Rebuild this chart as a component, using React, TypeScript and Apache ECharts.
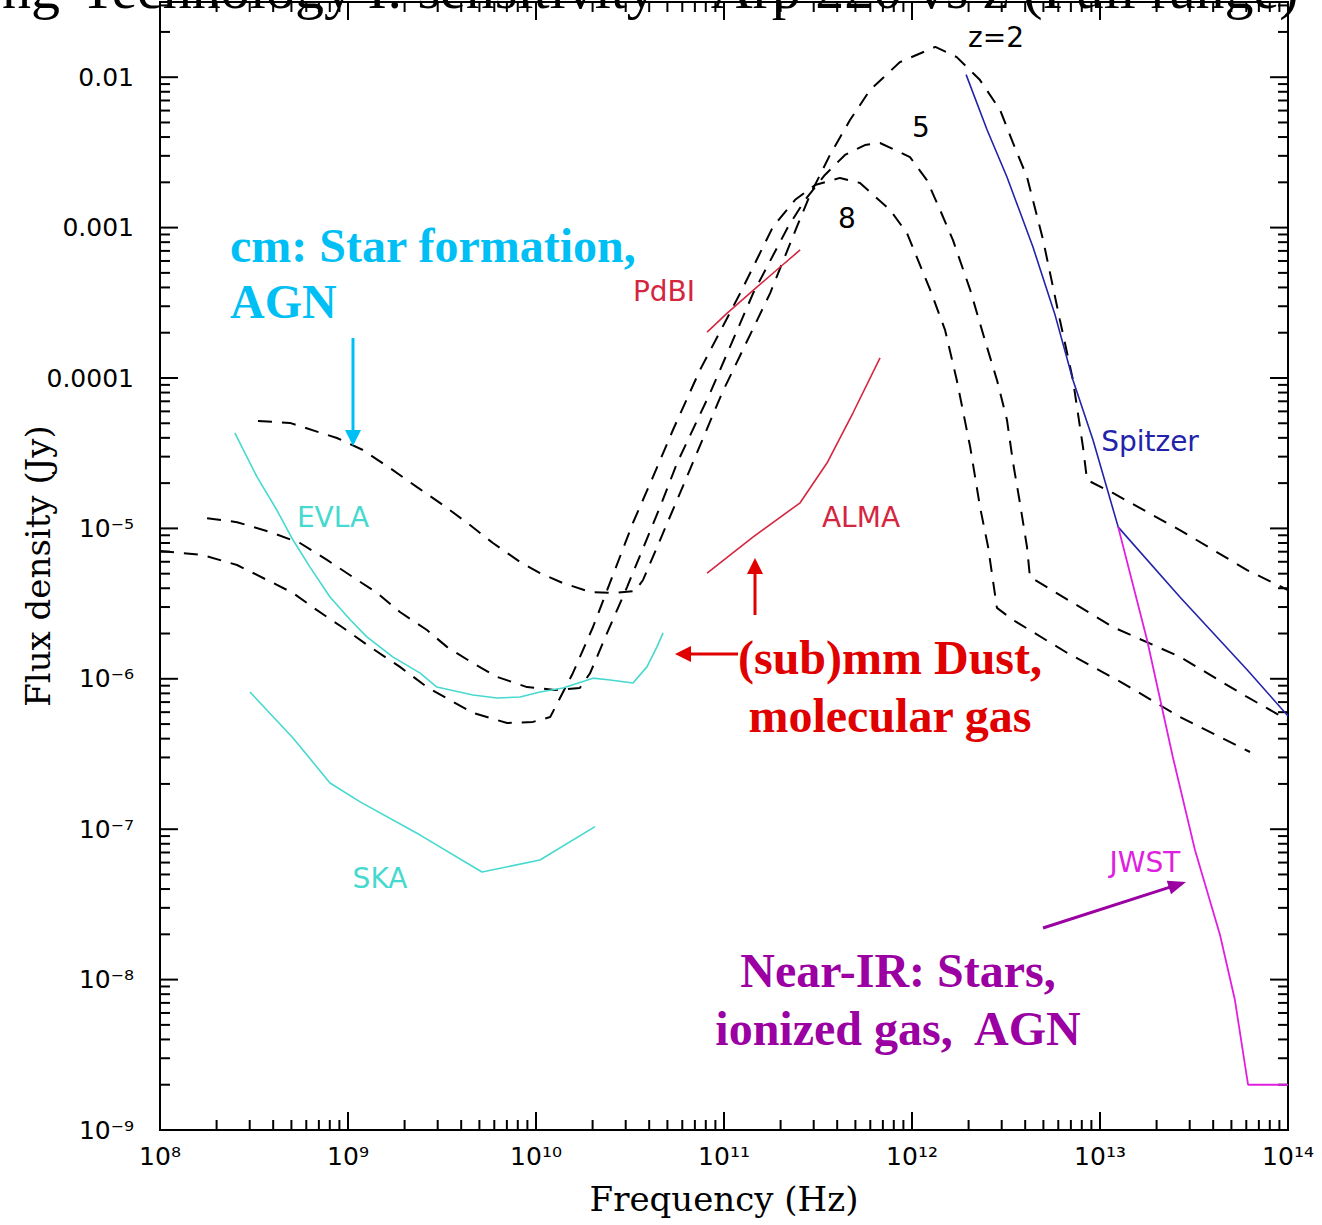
import React, { useEffect, useRef } from "react";
import * as echarts from "echarts";

// Axis ranges (log-log): frequency in Hz, flux density in Jy
const X_MIN = 1e8;
const X_MAX = 1e14;
const Y_MIN = 1e-9;
const Y_MAX = Math.pow(10, -1.5);

// Tick labels, indexed by decade exponent
const xTickLabels: Record<number, string> = {
  8: "10⁸", 9: "10⁹", 10: "10¹⁰", 11: "10¹¹", 12: "10¹²", 13: "10¹³", 14: "10¹⁴",
};
const yTickLabels: Record<number, string> = {
  [-9]: "10⁻⁹", [-8]: "10⁻⁸", [-7]: "10⁻⁷", [-6]: "10⁻⁶", [-5]: "10⁻⁵",
  [-4]: "0.0001", [-3]: "0.001", [-2]: "0.01",
};

// Arp 220 spectrum redshifted to z = 2, 5, 8 : [frequency (Hz), flux density (Jy)]
const sedZ2: [number, number][] = [
  [3.32e8, 5.18e-5], [4.91e8, 5.03e-5], [8.73e8, 3.99e-5], [1.2e9, 3.32e-5], [1.67e9, 2.52e-5],
  [2.33e9, 1.88e-5], [3.2e9, 1.43e-5], [4.3e9, 1.09e-5], [5.9e9, 8.0e-6], [8.22e9, 5.98e-6],
  [1.05e10, 5.05e-6], [1.39e10, 4.33e-6], [1.94e10, 3.78e-6], [2.57e10, 3.72e-6], [3.36e10, 3.84e-6],
  [3.71e10, 4.54e-6], [4.57e10, 8.37e-6], [5.84e10, 1.72e-5], [9.76e10, 7.94e-5], [1.76e11, 3.67e-4],
  [2.44e11, 1.01e-3], [2.87e11, 1.65e-3], [3.66e11, 3.04e-3], [4.68e11, 5.19e-3], [5.98e11, 8.22e-3],
  [8.63e11, 1.26e-2], [1.33e12, 1.59e-2], [1.73e12, 1.36e-2], [2.3e12, 9.57e-3], [2.94e12, 6.05e-3],
  [3.45e12, 3.65e-3], [4.09e12, 2.17e-3], [4.98e12, 8.28e-4], [6.12e12, 2.43e-4], [7.18e12, 9.7e-5],
  [8.12e12, 3.47e-5], [8.53e12, 2.1e-5], [1.17e13, 1.72e-5], [2.66e13, 9.75e-6], [6.06e13, 5.28e-6],
  [1.0e14, 3.89e-6],
];
const sedZ5: [number, number][] = [
  [1.78e8, 1.17e-5], [2.57e8, 1.1e-5], [3.85e8, 9.46e-6], [5.55e8, 8.0e-6], [7.73e8, 6.17e-6],
  [1.06e9, 4.75e-6], [1.43e9, 3.72e-6], [1.89e9, 2.78e-6], [2.63e9, 2.11e-6], [3.36e9, 1.63e-6],
  [4.62e9, 1.27e-6], [6.2e9, 1.03e-6], [8.96e9, 8.81e-7], [1.26e10, 8.43e-7], [1.71e10, 8.69e-7],
  [1.94e10, 1.09e-6], [2.39e10, 2.02e-6], [3.05e10, 4.07e-6], [4.57e10, 1.39e-5], [5.63e10, 2.72e-5],
  [8.43e10, 7.94e-5], [1.43e11, 3.67e-4], [2.19e11, 1.01e-3], [2.7e11, 1.53e-3], [3.44e11, 2.24e-3],
  [4.4e11, 3.04e-3], [5.62e11, 3.54e-3], [6.76e11, 3.65e-3], [8.12e11, 3.28e-3], [9.76e11, 2.94e-3],
  [1.2e12, 2.07e-3], [1.41e12, 1.31e-3], [1.65e12, 8.28e-4], [2.04e12, 3.85e-4], [2.44e12, 1.79e-4],
  [2.83e12, 9.7e-5], [3.2e12, 5.26e-5], [3.45e12, 2.72e-5], [3.75e12, 1.48e-5], [4.09e12, 7.52e-6],
  [4.24e12, 4.75e-6], [5.22e12, 4.07e-6], [1.17e13, 2.21e-6], [2.66e13, 1.4e-6], [6.06e13, 7.57e-7],
  [1.0e14, 5.32e-7],
];
const sedZ8: [number, number][] = [
  [1.0e8, 7.08e-6], [1.69e8, 6.65e-6], [2.57e8, 5.71e-6], [3.71e8, 4.54e-6], [5.1e8, 3.72e-6],
  [6.84e8, 2.86e-6], [9.29e8, 2.21e-6], [1.31e9, 1.63e-6], [1.89e9, 1.2e-6], [2.63e9, 8.81e-7],
  [3.49e9, 7.22e-7], [4.62e9, 5.93e-7], [7.02e9, 5.08e-7], [9.64e9, 5.17e-7], [1.19e10, 5.57e-7],
  [1.57e10, 1.09e-6], [2.01e10, 2.21e-6], [3.28e10, 1.09e-5], [4.19e10, 2.2e-5], [5.35e10, 4.51e-5],
  [7.45e10, 1.13e-4], [1.22e11, 3.67e-4], [1.82e11, 1.01e-3], [2.39e11, 1.53e-3], [3.05e11, 1.92e-3],
  [4.14e11, 2.14e-3], [5.29e11, 1.98e-3], [7.64e11, 1.31e-3], [9.4e11, 9.2e-4], [1.25e12, 3.85e-4],
  [1.5e12, 2.08e-4], [1.73e12, 9.7e-5], [2.04e12, 3.47e-5], [2.3e12, 1.39e-5], [2.54e12, 7.52e-6],
  [2.83e12, 2.96e-6], [3.45e12, 2.46e-6], [6.67e12, 1.49e-6], [1.32e13, 9.37e-7], [2.66e13, 5.57e-7],
  [6.28e13, 3.26e-7],
];

// Instrument sensitivity curves
const evla: [number, number][] = [
  [2.5e8, 4.31e-5], [3.28e8, 2.2e-5], [4.19e8, 1.32e-5], [5.1e8, 8.37e-6], [6.28e8, 5.53e-6],
  [8.02e8, 3.5e-6], [1.03e9, 2.46e-6], [1.26e9, 1.9e-6], [1.73e9, 1.4e-6], [2.42e9, 1.09e-6],
  [2.97e9, 8.81e-7], [4.62e9, 7.8e-7], [6.2e9, 7.45e-7], [8.22e9, 7.57e-7], [1.05e10, 8.17e-7],
  [1.39e10, 8.69e-7], [2.01e10, 1.01e-6], [2.48e10, 9.82e-7], [3.28e10, 9.37e-7], [3.89e10, 1.2e-6],
  [4.4e10, 1.63e-6], [4.74e10, 2.02e-6],
];
const ska: [number, number][] = [
  [3.01e8, 8.17e-7], [5.1e8, 4.04e-7], [8.02e8, 2.03e-7], [1.16e9, 1.52e-7], [2.42e9, 9.14e-8],
  [5.16e9, 5.19e-8], [1.05e10, 6.24e-8], [2.06e10, 1.04e-7],
];
const pdbi: [number, number][] = [
  [8.13e10, 2.02e-4], [1.04e11, 2.7e-4], [1.5e11, 4.03e-4], [1.99e11, 5.47e-4], [2.54e11, 7.1e-4],
];
const alma: [number, number][] = [
  [8.13e10, 5.05e-6], [1.43e11, 8.77e-6], [2.54e11, 1.48e-5], [3.53e11, 2.72e-5], [4.85e11, 5.85e-5],
  [6.76e11, 1.36e-4],
];
const spitzer: [number, number][] = [
  [1.94e12, 1.04e-2], [2.51e12, 4.46e-3], [3.2e12, 2.17e-3], [4.4e12, 7.43e-4], [5.77e12, 2.62e-4],
  [7.18e12, 9.7e-5], [9.18e12, 3.87e-5], [1.25e13, 1.02e-5], [2.66e13, 3.5e-6], [6.06e13, 1.15e-6],
  [1.0e14, 5.66e-7],
];
const jwst: [number, number][] = [
  [1.25e13, 1.02e-5], [1.78e13, 1.81e-6], [2.44e13, 3.02e-7], [3.2e13, 7.28e-8], [4.35e13, 1.98e-8],
  [5.22e13, 7.31e-9], [6.13e13, 2.0e-9], [1.0e14, 2.0e-9],
];

const CYAN_LINE = "#46d9cf";
const RED_LINE = "#d4263f";
const BLUE_LINE = "#2222aa";
const MAGENTA_LINE = "#e020e0";
const NOTE_CYAN = "#00bff5";
const NOTE_RED = "#e00000";
const NOTE_PURPLE = "#9a00a2";

// Major (decade) and minor (2..9) tick positions along both axes
function buildTicks(lo: number, hi: number): [number, number][] {
  const out: [number, number][] = [];
  for (let k = lo; k <= hi; k++) {
    for (let m = 1; m <= 9; m++) {
      const v = m * Math.pow(10, k);
      out.push([v, m === 1 ? 1 : 0]);
    }
  }
  return out;
}

function decadeOf(v: number): number | null {
  const l = Math.log10(v);
  const r = Math.round(l);
  return Math.abs(l - r) < 1e-6 ? r : null;
}

function makeArrow(
  x1: number, y1: number, x2: number, y2: number, color: string, head = 18, half = 8, width = 3
) {
  const dx = x2 - x1;
  const dy = y2 - y1;
  const len = Math.sqrt(dx * dx + dy * dy);
  const ux = dx / len;
  const uy = dy / len;
  const bx = x2 - ux * head;
  const by = y2 - uy * head;
  const px = -uy;
  const py = ux;
  return [
    {
      type: "line",
      z: 100,
      shape: { x1, y1, x2: bx + ux * 2, y2: by + uy * 2 },
      style: { stroke: color, lineWidth: width },
    },
    {
      type: "polygon",
      z: 100,
      shape: {
        points: [
          [x2, y2],
          [bx + px * half, by + py * half],
          [bx - px * half, by - py * half],
        ],
      },
      style: { fill: color },
    },
  ];
}

function label(x: number, y: number, text: string, color: string, font: string, align = "center") {
  return {
    type: "text",
    z: 100,
    x,
    y,
    style: { text, fill: color, font, textAlign: align, textVerticalAlign: "middle" },
  };
}

export default function App() {
  const ref = useRef<HTMLDivElement>(null);

  useEffect(() => {
    if (!ref.current) return;
    const chart = echarts.init(ref.current, null, { renderer: "svg" });

    const xTicks = buildTicks(8, 13)
      .map(([v, major]) => [v, Y_MIN, major])
      .concat([[X_MAX, Y_MIN, 1]]);
    const yTicks = buildTicks(-9, -2)
      .filter(([v]) => v <= Y_MAX * 1.0001)
      .map(([v, major]) => [X_MIN, v, major]);

    const tickStyle = { stroke: "#000", lineWidth: 2 };

    const dashed = (name: string, data: [number, number][]) => ({
      name,
      type: "line",
      data,
      showSymbol: false,
      symbol: "none",
      smooth: false,
      lineStyle: { color: "#000", width: 2, type: [14, 10] },
      z: 3,
    });
    const solid = (name: string, data: [number, number][], color: string, width = 1.6) => ({
      name,
      type: "line",
      data,
      showSymbol: false,
      symbol: "none",
      lineStyle: { color, width },
      z: 4,
    });

    const labelFont = '28px "DejaVu Sans"';
    const noteFont = 'bold 48px "Liberation Serif"';

    chart.setOption({
      animation: false,
      backgroundColor: "#ffffff",
      grid: {
        left: 160,
        top: 2,
        width: 1128,
        height: 1128,
        containLabel: false,
        outerBoundsMode: "none",
        show: true,
        borderColor: "#000",
        borderWidth: 2,
        backgroundColor: "transparent",
      },
      xAxis: {
        type: "log",
        logBase: 10,
        min: X_MIN,
        max: X_MAX,
        splitNumber: 6,
        axisLine: { show: false },
        axisTick: { show: false },
        splitLine: { show: false },
        axisLabel: {
          show: true,
          showMinLabel: true,
          showMaxLabel: true,
          margin: 14,
          color: "#000",
          fontFamily: "DejaVu Sans",
          fontSize: 25,
          formatter: (v: number) => {
            const k = decadeOf(v);
            return k !== null && xTickLabels[k] ? xTickLabels[k] : "";
          },
        },
        name: "Frequency (Hz)",
        nameLocation: "middle",
        nameGap: 52,
        nameMoveOverlap: false,
        nameTextStyle: { color: "#000", fontFamily: "DejaVu Serif", fontSize: 34 },
      },
      yAxis: {
        type: "log",
        logBase: 10,
        min: Y_MIN,
        max: Y_MAX,
        splitNumber: 8,
        axisLine: { show: false },
        axisTick: { show: false },
        splitLine: { show: false },
        axisLabel: {
          show: true,
          showMinLabel: true,
          margin: 26,
          color: "#000",
          fontFamily: "DejaVu Sans",
          fontSize: 25,
          formatter: (v: number) => {
            const k = decadeOf(v);
            return k !== null && yTickLabels[k] ? yTickLabels[k] : "";
          },
        },
        name: "Flux density (Jy)",
        nameLocation: "middle",
        nameGap: 105,
        nameMoveOverlap: false,
        nameRotate: 90,
        nameTextStyle: { color: "#000", fontFamily: "DejaVu Serif", fontSize: 34 },
      },
      series: [
        {
          name: "xticks",
          type: "custom",
          silent: true,
          clip: false,
          encode: { x: 0, y: 1 },
          data: xTicks,
          renderItem: (_p: any, api: any) => {
            const v = api.value(0);
            const len = api.value(2) === 1 ? 18 : 10;
            const b = api.coord([v, Y_MIN]);
            const t = api.coord([v, Y_MAX]);
            return {
              type: "group",
              children: [
                { type: "line", shape: { x1: b[0], y1: b[1], x2: b[0], y2: b[1] - len }, style: tickStyle },
                { type: "line", shape: { x1: t[0], y1: t[1], x2: t[0], y2: t[1] + len }, style: tickStyle },
              ],
            };
          },
        },
        {
          name: "yticks",
          type: "custom",
          silent: true,
          clip: false,
          encode: { x: 0, y: 1 },
          data: yTicks,
          renderItem: (_p: any, api: any) => {
            const v = api.value(1);
            const len = api.value(2) === 1 ? 18 : 10;
            const l = api.coord([X_MIN, v]);
            const r = api.coord([X_MAX, v]);
            return {
              type: "group",
              children: [
                { type: "line", shape: { x1: l[0], y1: l[1], x2: l[0] + len, y2: l[1] }, style: tickStyle },
                { type: "line", shape: { x1: r[0], y1: r[1], x2: r[0] - len, y2: r[1] }, style: tickStyle },
              ],
            };
          },
        },
        dashed("z=2", sedZ2),
        dashed("z=5", sedZ5),
        dashed("z=8", sedZ8),
        solid("EVLA", evla, CYAN_LINE),
        solid("SKA", ska, CYAN_LINE),
        solid("PdBI", pdbi, RED_LINE),
        solid("ALMA", alma, RED_LINE),
        solid("Spitzer", spitzer, BLUE_LINE),
        solid("JWST", jwst, MAGENTA_LINE, 1.8),
      ],
      graphic: [
        // slide heading running across the top edge
        {
          type: "text",
          z: 120,
          x: 60,
          y: -12,
          style: {
            text: "ng",
            fill: "#000",
            font: '58px "Liberation Serif"',
            textAlign: "right",
            textVerticalAlign: "middle",
          },
        },
        {
          type: "text",
          z: 120,
          x: 80,
          y: -12,
          style: {
            text: "Technology I: sensitivity \u2013 Arp 220 vs z (Full range)",
            fill: "#000",
            font: '58px "Liberation Serif"',
            textAlign: "left",
            textVerticalAlign: "middle",
          },
        },
        // curve labels
        label(996, 37, "z=2", "#000", labelFont),
        label(921, 127, "5", "#000", labelFont),
        label(847, 218, "8", "#000", labelFont),
        label(333, 517, "EVLA", CYAN_LINE, labelFont),
        label(380, 878, "SKA", CYAN_LINE, labelFont),
        label(664, 291, "PdBI", RED_LINE, labelFont),
        label(861, 517, "ALMA", RED_LINE, labelFont),
        label(1150, 441, "Spitzer", BLUE_LINE, labelFont),
        label(1145, 862, "JWST", MAGENTA_LINE, labelFont),
        // science notes
        label(230, 245, "cm: Star formation,", NOTE_CYAN, noteFont, "left"),
        label(230, 301, "AGN", NOTE_CYAN, noteFont, "left"),
        label(890, 657, "(sub)mm Dust,", NOTE_RED, noteFont),
        label(890, 715, "molecular gas", NOTE_RED, noteFont),
        label(898, 970, "Near-IR: Stars,", NOTE_PURPLE, noteFont),
        label(898, 1028, "ionized gas,  AGN", NOTE_PURPLE, noteFont),
        ...makeArrow(353, 338, 353, 446, NOTE_CYAN, 16, 8, 3),
        ...makeArrow(738, 654, 675, 654, NOTE_RED, 16, 8, 3),
        ...makeArrow(755, 615, 755, 558, NOTE_RED, 16, 8, 3),
        ...makeArrow(1043, 928, 1186, 882, NOTE_PURPLE, 18, 7, 3),
      ],
    });

    return () => chart.dispose();
  }, []);

  return (
    <div
      ref={ref}
      style={{ position: "absolute", left: 0, top: 0, width: 1322, height: 1225, background: "#fff" }}
    />
  );
}
